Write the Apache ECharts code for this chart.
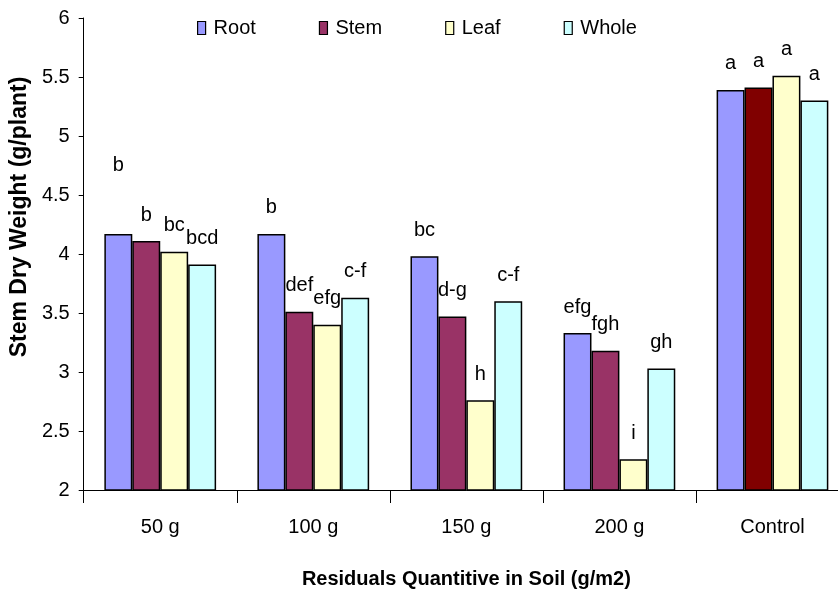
<!DOCTYPE html>
<html>
<head>
<meta charset="utf-8">
<script src="https://cdn.jsdelivr.net/npm/echarts@6/dist/echarts.min.js"></script>
<style>
html,body{margin:0;padding:0;background:#fff;overflow:hidden;width:838px;height:599px;}
#chart{width:850px;height:599px;}
</style>
</head>
<body>
<div id="chart"></div>
<script>
const categories = ['50 g', '100 g', '150 g', '200 g', 'Control'];
const seriesNames = ['Root', 'Stem', 'Leaf', 'Whole'];
const rootValues = [4.17, 4.17, 3.98, 3.33, 5.39];
const stemValues = [4.11, 3.51, 3.47, 3.18, 5.41];
const leafValues = [4.02, 3.40, 2.76, 2.26, 5.51];
const wholeValues = [3.91, 3.63, 3.60, 3.03, 5.30];
const rootLetters = ['b', 'b', 'bc', 'efg', 'a'];
const stemLetters = ['b', 'def', 'd-g', 'fgh', 'a'];
const leafLetters = ['bc', 'efg', 'h', 'i', 'a'];
const wholeLetters = ['bcd', 'c-f', 'c-f', 'gh', 'a'];
const yMin = 2, yMax = 6, yStep = 0.5;

const NARROW = "'Liberation Sans Narrow', 'Arial Narrow', 'Liberation Sans', Arial, sans-serif";
const WIDE = "'Liberation Sans', Arial, sans-serif";
const colors = ['#9999FF', '#993366', '#FFFFCC', '#CCFFFF'];
const controlStemColor = '#800000';

const valueSets = [rootValues, stemValues, leafValues, wholeValues];
const letterSets = [rootLetters, stemLetters, leafLetters, wholeLetters];

function buildSeries(si) {
  return {
    name: seriesNames[si],
    type: 'bar',
    barGap: '0%',
    barCategoryGap: '27%',
    itemStyle: { color: colors[si], borderColor: '#000', borderWidth: 1.5 },
    label: {
      show: true, position: 'top', distance: 16,
      color: '#000', fontFamily: NARROW, fontSize: 20,
      formatter: p => letterSets[si][p.dataIndex]
    },
    data: valueSets[si].map((v, i) => {
      const d = { value: v };
      if (si === 1 && categories[i] === 'Control') d.itemStyle = { color: controlStemColor };
      if (si === 0 && i === 0) d.label = { distance: 58 };
      return d;
    })
  };
}

const chart = echarts.init(document.getElementById('chart'), null, { renderer: 'canvas' });
chart.setOption({
  animation: false,
  backgroundColor: '#fff',
  color: colors,
  legend: {
    left: 192, top: 13,
    itemWidth: 8, itemHeight: 13, itemGap: 63,
    icon: 'rect',
    itemStyle: { borderColor: '#000', borderWidth: 1.2 },
    textStyle: { fontFamily: NARROW, fontSize: 20, color: '#000', padding: [0, 0, 0, 3] },
    data: seriesNames
  },
  grid: { left: 82, top: 18, right: 1, height: 472, containLabel: false },
  xAxis: {
    type: 'category',
    data: categories,
    name: 'Residuals Quantitive in Soil (g/m2)',
    nameLocation: 'middle',
    nameGap: 79,
    nameTextStyle: { fontFamily: NARROW, fontSize: 20, fontWeight: 'bold', color: '#000' },
    axisLine: { lineStyle: { color: '#000', width: 1 } },
    axisTick: { show: true, length: 13, lineStyle: { color: '#000' } },
    axisLabel: { margin: 27, fontFamily: NARROW, fontSize: 20, color: '#000' },
    splitLine: { show: false }
  },
  yAxis: {
    type: 'value',
    min: yMin, max: yMax, interval: yStep,
    name: 'Stem Dry Weight (g/plant)',
    nameLocation: 'middle',
    nameGap: 52,
    nameTextStyle: { fontFamily: WIDE, fontSize: 23, fontWeight: 'bold', color: '#000', padding: [0, 0, 0, 74] },
    axisLine: { show: true, lineStyle: { color: '#000', width: 1 } },
    axisTick: { show: true, length: 5, lineStyle: { color: '#000' } },
    axisLabel: { margin: 14, fontFamily: NARROW, fontSize: 20, color: '#000' },
    splitLine: { show: false }
  },
  series: [0, 1, 2, 3].map(buildSeries)
});
</script>
</body>
</html>
